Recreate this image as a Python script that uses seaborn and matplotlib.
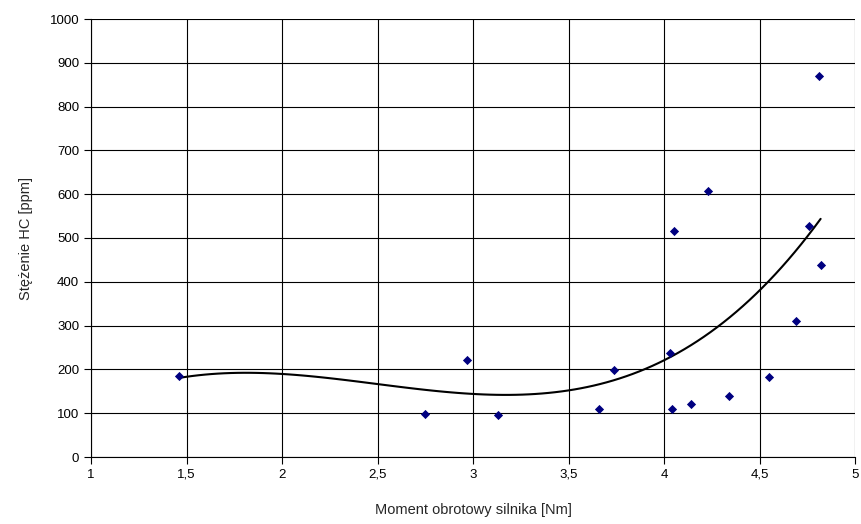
import numpy as np
import pandas as pd
import matplotlib
matplotlib.use("Agg")
import matplotlib.pyplot as plt
import seaborn as sns

# dane pomiarowe
moment = [1.46, 2.75, 2.97, 3.13, 3.66, 3.74, 4.03, 4.04, 4.05, 4.14,
          4.23, 4.34, 4.55, 4.69, 4.76, 4.81, 4.82]
stezenie_hc = [186, 98, 221, 96, 110, 199, 237, 109, 517, 120,
               607, 139, 183, 311, 527, 870, 438]

x_ticks = [1, 1.5, 2, 2.5, 3, 3.5, 4, 4.5, 5]
x_labels = ["1", "1,5", "2", "2,5", "3", "3,5", "4", "4,5", "5"]
y_ticks = list(range(0, 1001, 100))

df = pd.DataFrame({"moment": moment, "hc": stezenie_hc})

sns.set_style("white")
plt.rcParams["font.family"] = ["Liberation Sans", "DejaVu Sans"]

fig = plt.figure(figsize=(8.61, 5.24), dpi=100)
ax = fig.add_axes([91 / 861, 1 - 457 / 524, 764 / 861, 438 / 524])

# punkty + trend wielomianowy 3. stopnia
sns.regplot(data=df, x="moment", y="hc", order=3, ci=None, ax=ax, marker="D",
            scatter_kws=dict(s=22, color="#000080", alpha=1, linewidths=0, zorder=3),
            line_kws=dict(color="black", lw=1.5, zorder=2))

ax.set_xlim(1, 5)
ax.set_ylim(0, 1000)
ax.set_xticks(x_ticks)
ax.set_xticklabels(x_labels)
ax.set_yticks(y_ticks)
ax.grid(True, color="black", lw=0.8)
ax.set_axisbelow(True)
for s in ["top", "right"]:
    ax.spines[s].set_visible(False)
ax.spines["left"].set_color("black")
ax.spines["bottom"].set_color("black")
ax.tick_params(axis="both", direction="out", length=5, width=0.8, color="black",
               labelsize=9.5, labelcolor="black", bottom=True, left=True)
ax.set_xlabel("Moment obrotowy silnika [Nm]", fontsize=10.5, labelpad=16)
ax.set_ylabel("Stężenie HC [ppm]", fontsize=10.5, labelpad=12)

fig.savefig("out.png", dpi=100)
